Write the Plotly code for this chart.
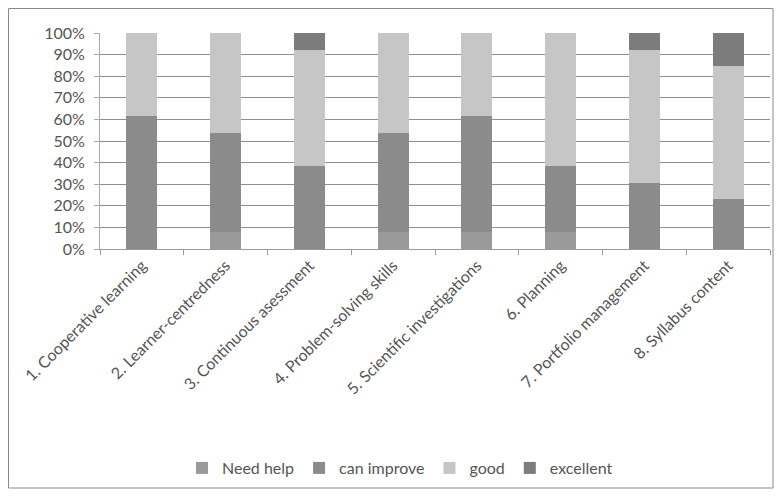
import plotly.graph_objects as go

categories = ["1. Cooperative learning", "2. Learner-centredness", "3. Continuous asessment",
              "4. Problem-solving skills", "5. Scientific investigations", "6. Planning",
              "7. Portfolio management", "8. Syllabus content"]
need_help = [0, 1, 0, 1, 1, 1, 0, 0]
can_improve = [8, 6, 5, 6, 7, 4, 4, 3]
good = [5, 6, 7, 6, 5, 8, 8, 8]
excellent = [0, 0, 1, 0, 0, 0, 1, 2]

series = [("Need help", need_help, "#9a9a9a"),
          ("can improve", can_improve, "#8b8b8b"),
          ("good", good, "#c6c6c6"),
          ("excellent", excellent, "#7c7c7c")]

fig = go.Figure()
for name, vals, col in series:
    fig.add_trace(go.Bar(x=categories, y=vals, name=name, marker_color=col,
                         marker_line_width=0))

# page body has an 8px margin; size the figure so it fits the window
W, H = 766, 481
l, r, t, b = 92, 4, 25, 240
pw, ph = W - l - r, H - t - b

fig.update_layout(
    width=W, height=H, barmode="stack", barnorm="percent", bargap=0.63,
    margin=dict(l=l, r=r, t=t, b=b, autoexpand=False),
    paper_bgcolor="white", plot_bgcolor="white",
    font=dict(family="Lato, Open Sans, sans-serif", size=16, color="#555555"),
    legend=dict(orientation="h", x=(392 - l) / pw, xanchor="center",
                y=(H - b - 460) / ph, yanchor="middle", itemwidth=30,
                font=dict(size=16, color="#555555"), traceorder="normal"),
    showlegend=True,
)
fig.update_yaxes(range=[0, 100], dtick=10, ticksuffix="%", showgrid=True,
                 gridcolor="#8f8f8f", gridwidth=1, showline=True, linecolor="#aaaaaa",
                 ticks="outside", ticklen=5, tickcolor="#aaaaaa", zeroline=False,
                 ticklabelstandoff=6,
                 automargin=False, tickfont=dict(size=16, color="#555555"))
fig.update_xaxes(tickangle=-45, showline=True, linecolor="#999999", ticks="outside",
                 tickson="boundaries", ticklen=5, tickcolor="#999999", automargin=False,
                 tickfont=dict(size=16, color="#555555"))

fig.add_shape(type="rect", xref="paper", yref="paper",
              x0=(0.5 - l) / pw, x1=(765 - l) / pw,
              y0=(H - b - 480) / ph, y1=(H - b - 0.5) / ph,
              line=dict(color="#8a8a8a", width=1), fillcolor="rgba(0,0,0,0)")

fig.write_html("out.html")
